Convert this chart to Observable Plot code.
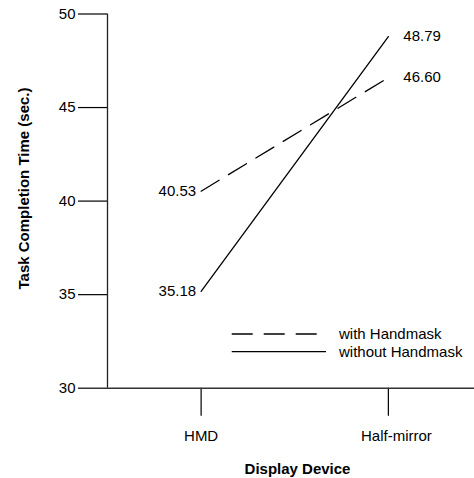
<!DOCTYPE html>
<html>
<head>
<meta charset="utf-8">
<script src="https://cdn.jsdelivr.net/npm/d3@7"></script>
<script src="https://cdn.jsdelivr.net/npm/@observablehq/plot@0.6"></script>
<style>
  html, body { margin: 0; padding: 0; background: #fff; }
  svg { display: block; }
</style>
</head>
<body>
<div id="chart"></div>
<script>
// ---- data ----
const devices = ["HMD", "Half-mirror"];
const seriesNames = ["with Handmask", "without Handmask"];
const withHandmask = [40.53, 46.60];
const withoutHandmask = [35.18, 48.79];
const yTicks = [30, 35, 40, 45, 50];
const xTitle = "Display Device";
const yTitle = "Task Completion Time (sec.)";

const rows = [];
devices.forEach((d, i) => {
  rows.push({i, device: d, series: seriesNames[0], value: withHandmask[i]});
  rows.push({i, device: d, series: seriesNames[1], value: withoutHandmask[i]});
});

const FONT = "Helvetica, Arial, 'Liberation Sans', sans-serif";
const dashes = {"with Handmask": "21,11", "without Handmask": null};

const chart = Plot.plot({
  width: 474,
  height: 478,
  marginLeft: 107,
  marginRight: 0,
  marginTop: 13.5,
  marginBottom: 90.3,
  style: {fontFamily: FONT, fontSize: "15px", color: "#000", background: "#fff"},
  x: {type: "linear", domain: [-0.5, 1.46]},
  y: {domain: [30, 50]},
  marks: [
    Plot.axisY({ticks: yTicks, tickSize: 29, tickPadding: 3, fontSize: 15, label: null, strokeWidth: 1.2}),
    Plot.axisX({ticks: [0, 1], tickFormat: i => devices[i], tickSize: 28, tickPadding: 14, fontSize: 15, label: null, strokeWidth: 1.2}),
    Plot.ruleX([-0.5], {stroke: "#222", strokeWidth: 1.3}),
    Plot.ruleY([30], {stroke: "#333", strokeWidth: 1.6}),
    Plot.line(rows.filter(r => r.series === seriesNames[0]), {x: "i", y: "value", stroke: "#000", strokeWidth: 1.3, strokeDasharray: dashes[seriesNames[0]]}),
    Plot.line(rows.filter(r => r.series === seriesNames[1]), {x: "i", y: "value", stroke: "#000", strokeWidth: 1.3}),
    Plot.text(rows.filter(r => r.i === 0), {x: "i", y: "value", text: r => r.value.toFixed(2), textAnchor: "end", dx: -5, fontSize: 15, fill: "#000"}),
    Plot.text(rows.filter(r => r.i === 1), {x: "i", y: "value", text: r => r.value.toFixed(2), textAnchor: "start", dx: 15, fontSize: 15, fill: "#000"}),
    Plot.text([xTitle], {frameAnchor: "bottom", text: d => d, textAnchor: "middle", lineAnchor: "bottom", dx: 6.5, dy: 86, fontWeight: "bold", fontSize: 15, fill: "#000"}),
    Plot.text([yTitle], {frameAnchor: "left", text: d => d, textAnchor: "middle", lineAnchor: "middle", rotate: -90, dx: -83, dy: -12.6, fontWeight: "bold", fontSize: 15, fill: "#000"})
  ]
});

document.getElementById("chart").appendChild(chart);

const svg = d3.select(chart);
// the reference sets the second device label slightly right of its tick
svg.selectAll('g[aria-label="x-axis tick label"] text')
  .filter((d, k) => k === 1)
  .attr("dx", 8);

// ---- legend (inside the plot area, lower right) ----
const lg = svg.append("g").attr("font-family", FONT).attr("font-size", 15).attr("text-anchor", "start");
const legendItems = [
  {name: seriesNames[0], y: 334, x2: 318, dash: dashes[seriesNames[0]]},
  {name: seriesNames[1], y: 351.7, x2: 326, dash: null}
];
legendItems.forEach(it => {
  lg.append("line")
    .attr("x1", 231.7).attr("x2", it.x2)
    .attr("y1", it.y).attr("y2", it.y)
    .attr("stroke", "#000").attr("stroke-width", 1.3)
    .attr("stroke-dasharray", it.dash);
  lg.append("text")
    .attr("x", 339).attr("y", it.y)
    .attr("dy", "0.32em")
    .attr("text-anchor", "start")
    .attr("fill", "#000")
    .text(it.name);
});
</script>
</body>
</html>
